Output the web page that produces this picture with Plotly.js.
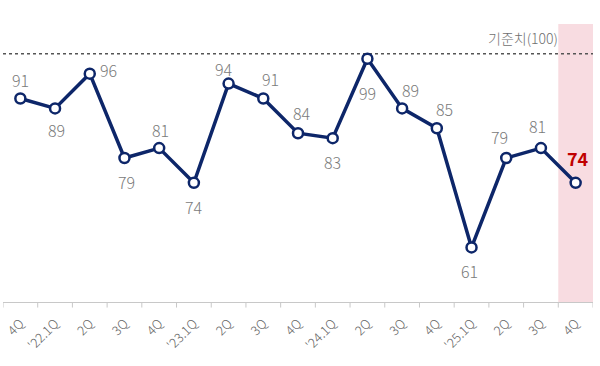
<!DOCTYPE html>
<html>
<head>
<meta charset="utf-8">
<script src="https://cdn.plot.ly/plotly-3.0.1.min.js"></script>
<style>html,body{margin:0;padding:0;background:#fff;}#chart{width:600px;height:366px;}</style>
</head>
<body>
<div id="chart"></div>
<script>
const quarters = ["4Q", "'22.1Q", "2Q", "3Q", "4Q", "'23.1Q", "2Q", "3Q", "4Q", "'24.1Q", "2Q", "3Q", "4Q", "'25.1Q", "2Q", "3Q", "4Q"];
const values = [91, 89, 96, 79, 81, 74, 94, 91, 84, 83, 99, 89, 85, 61, 79, 81, 74];
const baseline = 100;
const baselineLabel = "기준치(100)";

// label offsets in pixels (dx, dy) relative to each point
const labelDx = [0, 1, 19, 2, 1, 0, -5, 7, 4, 0, 0, 8, 8, -2, -7, -3, 2];
const labelDy = [-18, 22, -4, 24, -18, 24, -15, -19, -20, 24, 34, -18, -19, 24, -21, -22, -25];

const xIdx = quarters.map((_, i) => i);
const last = values.length - 1;
const navy = "#0d2669";

const annotations = values.map((v, i) => ({
  x: i, y: v, xref: "x", yref: "y",
  text: String(v), showarrow: false,
  xshift: labelDx[i], yshift: -labelDy[i],
  font: i === last
    ? {family: "Noto Sans CJK KR, Noto Sans, sans-serif", size: 18, color: "#c00000", weight: 700}
    : {family: "Noto Sans CJK KR, Noto Sans, sans-serif", size: 16, color: "#7a7a7a", weight: 300}
}));
annotations.push({
  x: 1, y: baseline, xref: "paper", yref: "y", xanchor: "right", yanchor: "bottom",
  xshift: -33, yshift: 4,
  text: baselineLabel, showarrow: false,
  font: {family: "Noto Sans CJK KR, sans-serif", size: 14, color: "#6f6f6f", weight: 300}
});

const traces = [
  {
    x: [-0.5, quarters.length - 0.5], y: [baseline, baseline],
    mode: "lines", line: {color: "#555", width: 1.5, dash: "dot"},
    hoverinfo: "skip", showlegend: false
  },
  {
    x: xIdx, y: values, mode: "lines+markers",
    line: {color: navy, width: 3.5},
    marker: {size: 10, color: "#fff", line: {color: navy, width: 2.5}},
    showlegend: false
  }
];

const layout = {
  width: 600, height: 366,
  margin: {l: 3, r: 7, t: 24, b: 64},
  paper_bgcolor: "#fff", plot_bgcolor: "#fff",
  xaxis: {
    range: [-0.5, quarters.length - 0.5],
    tickmode: "array", tickvals: xIdx, ticktext: quarters,
    tickangle: -45, showgrid: false, zeroline: false,
    showline: true, linecolor: "#c8c8c8", linewidth: 1,
    ticks: "outside", ticklen: 8, tickcolor: "rgba(0,0,0,0)",
    tickfont: {family: "Noto Sans CJK KR, sans-serif", size: 13, color: "#666", weight: 300}
  },
  yaxis: {range: [50, 106], visible: false, showgrid: false, zeroline: false},
  shapes: [
    {type: "rect", xref: "x", yref: "paper", x0: last - 0.5, x1: last + 0.5, y0: 0, y1: 1,
     fillcolor: "#f8dce1", line: {width: 0}, layer: "below"}
  ].concat(Array.from({length: quarters.length + 1}, (_, k) => ({
    type: "line", xref: "x", yref: "paper", x0: k - 0.5, x1: k - 0.5, y0: 0, y1: -0.02,
    line: {color: "#c8c8c8", width: 1}
  }))),
  annotations: annotations,
  showlegend: false
};

Plotly.newPlot("chart", traces, layout, {displayModeBar: false, staticPlot: true});
</script>
</body>
</html>
